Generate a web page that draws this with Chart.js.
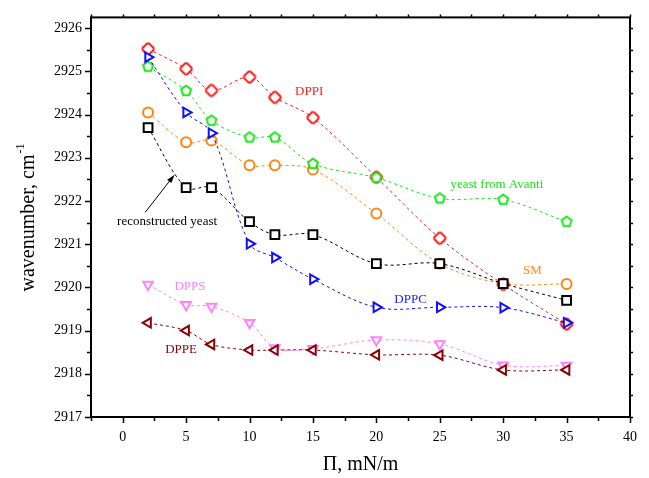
<!DOCTYPE html>
<html>
<head>
<meta charset="utf-8">
<script src="https://cdn.jsdelivr.net/npm/chart.js@4/dist/chart.umd.min.js"></script>
<style>
  html, body { margin: 0; padding: 0; background: #fff; }
  #wrap { width: 649px; height: 478px; }
</style>
</head>
<body>
<div id="wrap"><canvas id="chart" width="649" height="478"></canvas></div>
<script>
// surface pressure, mN/m
const PI = [2, 5, 7, 10, 12, 15, 20, 25, 30, 35];
// CH2 stretching wavenumber, cm-1
const DPPI   = [2925.52, 2925.06, 2924.56, 2924.87, 2924.40, 2923.93, 2922.55, 2921.14, 2920.07, 2919.15];
const AVANTI = [2925.11, 2924.55, 2923.86, 2923.47, 2923.47, 2922.86, 2922.54, 2922.06, 2922.03, 2921.52];
const SM     = [2924.05, 2923.36, 2923.40, 2922.83, 2922.83, 2922.73, 2921.71, 2920.55, 2920.09, 2920.08];
const RECON  = [2923.70, 2922.31, 2922.31, 2921.52, 2921.22, 2921.22, 2920.55, 2920.55, 2920.09, 2919.70];
const DPPC   = [2925.33, 2924.05, 2923.57, 2921.01, 2920.69, 2920.19, 2919.54, 2919.54, 2919.53, 2919.18];
const DPPS   = [2920.07, 2919.60, 2919.56, 2919.18, 2918.60, 2918.58, 2918.78, 2918.69, 2918.20, 2918.19];
const DPPE   = [2919.18, 2919.00, 2918.68, 2918.55, 2918.55, 2918.55, 2918.44, 2918.43, 2918.09, 2918.09];

const X_TICKS = [0, 5, 10, 15, 20, 25, 30, 35, 40];
const Y_TICKS = [2917, 2918, 2919, 2920, 2921, 2922, 2923, 2924, 2925, 2926];

// in-plot labels, placed in data coordinates
const NOTES = [
  { text: "DPPI", x: 14.7, y: 2924.53, color: "#ff2020" },
  { text: "yeast from Avanti", x: 29.5, y: 2922.38, color: "#20e020" },
  { text: "reconstructed yeast", x: 3.5, y: 2921.53, color: "#000" },
  { text: "SM", x: 32.3, y: 2920.38, color: "#ff8c1a" },
  { text: "DPPC", x: 22.7, y: 2919.72, color: "#2020ff" },
  { text: "DPPS", x: 5.3, y: 2920.02, color: "#ff80ff" },
  { text: "DPPE", x: 4.6, y: 2918.57, color: "#8b0000" }
];

const SERIF = "'Liberation Serif', 'Times New Roman', serif";

function marker(points, color) {
  const c = document.createElement("canvas");
  c.width = 16; c.height = 16;
  const g = c.getContext("2d");
  g.beginPath();
  points.forEach(([px, py], i) => i ? g.lineTo(8 + px, 8 + py) : g.moveTo(8 + px, 8 + py));
  g.closePath();
  g.fillStyle = "#fff";
  g.fill();
  g.strokeStyle = color;
  g.lineWidth = 2;
  g.stroke();
  return c;
}

const pentagon = [];
for (let i = 0; i < 5; i++) {
  const a = -Math.PI / 2 + i * 2 * Math.PI / 5;
  pentagon.push([5.2 * Math.cos(a), 5.2 * Math.sin(a)]);
}
const diamond = [[-1, -5.5], [1, -5.5], [5.5, -1], [5.5, 1], [1, 5.5], [-1, 5.5], [-5.5, 1], [-5.5, -1]];

function series(label, ys, color, style, extra) {
  return Object.assign({
    label,
    data: PI.map((x, i) => ({ x, y: ys[i] })),
    borderColor: color,
    borderWidth: 1,
    borderDash: [3, 3],
    tension: 0.35,
    pointStyle: style,
    pointRadius: 5,
    pointBorderWidth: 2,
    pointBorderColor: color,
    pointBackgroundColor: "#fff"
  }, extra || {});
}

const datasets = [
  series("reconstructed yeast", RECON, "#000000", "rect", { pointRadius: 6.2, order: 0 }),
  series("DPPC", DPPC, "#1010ff", "triangle", { pointRotation: 90, pointRadius: 5.5, order: 1 }),
  series("yeast from Avanti", AVANTI, "#19e619", marker(pentagon, "#19e619"), { order: 2 }),
  series("DPPI", DPPI, "#ff1a1a", marker(diamond, "#ff1a1a"), { order: 3 }),
  series("SM", SM, "#ff8515", "circle", { order: 4 }),
  series("DPPE", DPPE, "#8b0000", "triangle", { pointRotation: 270, pointRadius: 5.5, order: 5 }),
  series("DPPS", DPPS, "#ff80ff", "triangle", { pointRotation: 180, pointRadius: 5.5, order: 6 })
];

const decor = {
  id: "decor",
  afterDraw(chart) {
    const { ctx, chartArea: a, scales: { x, y } } = chart;
    ctx.save();
    ctx.strokeStyle = "#000";
    ctx.lineWidth = 1.5;
    // minor + major ticks, outward
    for (let v = -2.5; v <= 40.001; v += 2.5) {
      const p = Math.round(x.getPixelForValue(v)) + 0.5;
      const major = Math.abs(v % 5) < 1e-6;
      ctx.beginPath();
      ctx.moveTo(p, a.bottom); ctx.lineTo(p, a.bottom + (major ? 6 : 4));
      ctx.moveTo(p, a.top); ctx.lineTo(p, a.top - 3);
      ctx.stroke();
    }
    for (let v = 2917; v <= 2926.001; v += 0.5) {
      const p = Math.round(y.getPixelForValue(v)) + 0.5;
      const major = Math.abs(v % 1) < 1e-6;
      ctx.beginPath();
      ctx.moveTo(a.left, p); ctx.lineTo(a.left - (major ? 6 : 4), p);
      ctx.moveTo(a.right, p); ctx.lineTo(a.right + 3, p);
      ctx.stroke();
    }
    // frame
    ctx.lineWidth = 2;
    ctx.strokeRect(a.left, a.top, a.right - a.left, a.bottom - a.top);

    // notes
    ctx.font = "13px " + SERIF;
    ctx.textAlign = "center";
    ctx.textBaseline = "middle";
    NOTES.forEach(n => {
      ctx.fillStyle = n.color;
      ctx.fillText(n.text, x.getPixelForValue(n.x), y.getPixelForValue(n.y));
    });

    // arrow to the reconstructed yeast curve
    const x0 = x.getPixelForValue(1.78), y0 = y.getPixelForValue(2921.74);
    const x1 = x.getPixelForValue(4.09), y1 = y.getPixelForValue(2922.61);
    const ang = Math.atan2(y1 - y0, x1 - x0);
    ctx.strokeStyle = "#000";
    ctx.fillStyle = "#000";
    ctx.lineWidth = 1;
    ctx.beginPath();
    ctx.moveTo(x0, y0); ctx.lineTo(x1 - 6 * Math.cos(ang), y1 - 6 * Math.sin(ang));
    ctx.stroke();
    ctx.beginPath();
    ctx.moveTo(x1, y1);
    ctx.lineTo(x1 - 9 * Math.cos(ang - 0.3), y1 - 9 * Math.sin(ang - 0.3));
    ctx.lineTo(x1 - 9 * Math.cos(ang + 0.3), y1 - 9 * Math.sin(ang + 0.3));
    ctx.closePath();
    ctx.fill();

    // axis titles
    ctx.fillStyle = "#000";
    ctx.font = "20px " + SERIF;
    ctx.textAlign = "center";
    ctx.textBaseline = "middle";
    ctx.fillText("\u03A0, mN/m", (a.left + a.right) / 2, 465);

    ctx.translate(29, 218);
    ctx.rotate(-Math.PI / 2);
    const main = "wavenumber, cm";
    const w1 = ctx.measureText(main).width;
    ctx.font = "12px " + SERIF;
    const w2 = ctx.measureText("-1").width;
    const start = -(w1 + w2) / 2;
    ctx.textAlign = "left";
    ctx.font = "20px " + SERIF;
    ctx.fillText(main, start, 0);
    ctx.font = "12px " + SERIF;
    ctx.fillText("-1", start + w1 + 1, -8);
    ctx.restore();
  }
};

new Chart(document.getElementById("chart"), {
  type: "line",
  data: { datasets },
  options: {
    responsive: false,
    animation: false,
    layout: { padding: { top: 13, right: 9, left: 0, bottom: 0 } },
    plugins: { legend: { display: false }, tooltip: { enabled: false } },
    scales: {
      x: {
        type: "linear",
        min: -2.5,
        max: 40,
        afterBuildTicks: s => { s.ticks = X_TICKS.map(v => ({ value: v })); },
        afterFit: s => { s.height = 61; },
        grid: { display: false, drawTicks: false, tickLength: 0 },
        border: { display: false },
        ticks: { padding: 12, color: "#000", font: { family: SERIF, size: 14 }, maxRotation: 0, autoSkip: false }
      },
      y: {
        type: "linear",
        min: 2917,
        max: 2926.25,
        afterBuildTicks: s => { s.ticks = Y_TICKS.map(v => ({ value: v })); },
        afterFit: s => { s.width = 91; },
        grid: { display: false, drawTicks: false, tickLength: 0 },
        border: { display: false },
        ticks: { padding: 9, color: "#000", font: { family: SERIF, size: 14 }, autoSkip: false, callback: v => String(v) }
      }
    }
  },
  plugins: [decor]
});
</script>
</body>
</html>
